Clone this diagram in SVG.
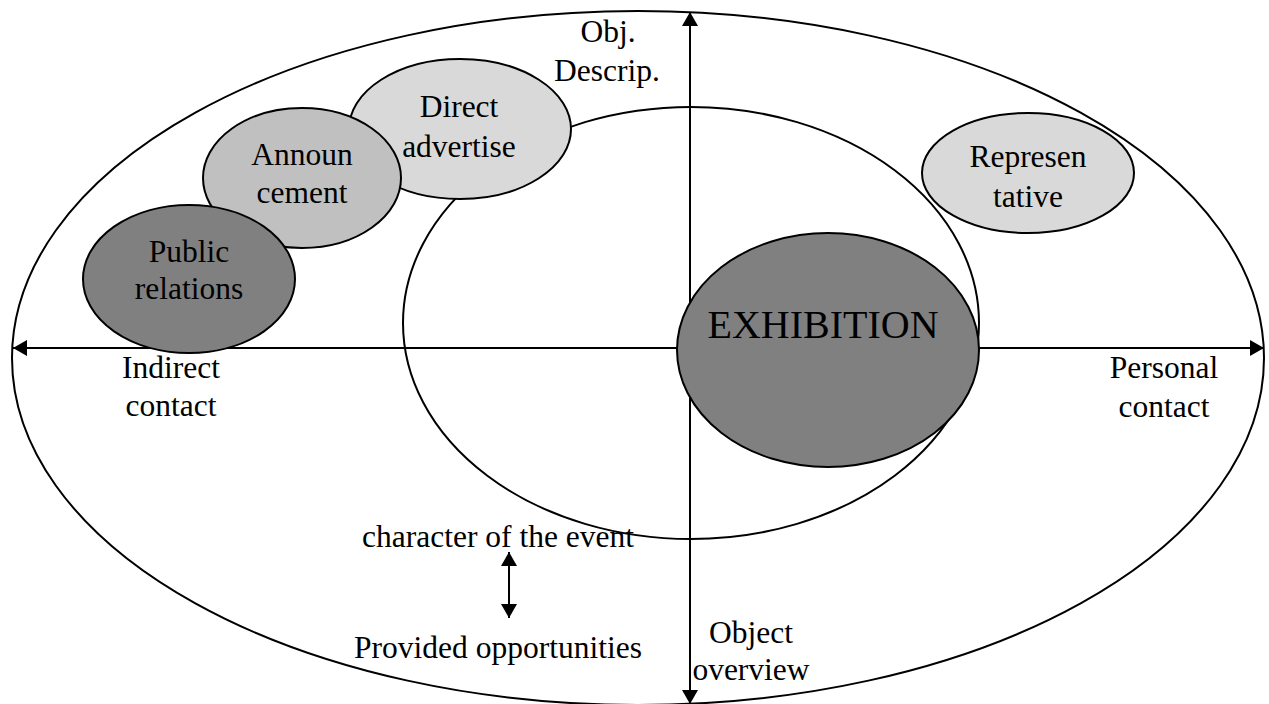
<svg xmlns="http://www.w3.org/2000/svg" width="1269" height="704" viewBox="0 0 1269 704">
<style>
.ln{stroke:#000;stroke-width:2;fill:none}
.el{stroke:#000;stroke-width:2}
text{font-family:"Liberation Serif","Times New Roman",serif;font-size:31.5px;fill:#000;text-anchor:middle}
</style>
<defs>
<marker id="ah" viewBox="0 0 14 16" refX="14" refY="8" markerWidth="14" markerHeight="16" markerUnits="userSpaceOnUse" orient="auto-start-reverse">
<path d="M0,0 L14,8 L0,16 Z" fill="#000"/>
</marker>
</defs>
<rect width="1269" height="704" fill="#fff"/>
<g id="outer"><ellipse class="el" cx="638" cy="358" rx="626" ry="347" fill="none"/></g>
<g id="inner"><ellipse class="el" cx="691" cy="323" rx="288" ry="216" fill="none"/></g>
<g id="connectors">
<line class="ln" x1="13" y1="348" x2="1264" y2="348" marker-start="url(#ah)" marker-end="url(#ah)"/>
<line class="ln" x1="690" y1="12" x2="690" y2="704" marker-start="url(#ah)" marker-end="url(#ah)"/>
<line class="ln" x1="509" y1="552" x2="509" y2="618" marker-start="url(#ah)" marker-end="url(#ah)"/>
</g>
<g id="direct"><ellipse class="el" cx="460" cy="129" rx="111" ry="70" fill="#d9d9d9"/><text x="459" y="117">Direct</text><text x="459" y="157">advertise</text></g>
<g id="announcement"><ellipse class="el" cx="302" cy="178" rx="99" ry="70" fill="#c0c0c0"/><text x="302" y="165">Announ</text><text x="302" y="203">cement</text></g>
<g id="public"><ellipse class="el" cx="189" cy="279" rx="106" ry="74" fill="#808080"/><text x="189" y="262">Public</text><text x="189" y="299">relations</text></g>
<g id="representative"><ellipse class="el" cx="1028" cy="173" rx="106" ry="60" fill="#d9d9d9"/><text x="1028" y="167">Represen</text><text x="1028" y="207">tative</text></g>
<g id="exhibition"><ellipse class="el" cx="828" cy="350" rx="151" ry="117" fill="#808080"/><text x="823" y="338" style="font-size:40px">EXHIBITION</text></g>
<g id="labels">
<text x="608" y="42">Obj.</text><text x="607" y="81">Descrip.</text>
<text x="171" y="378">Indirect</text><text x="171" y="416">contact</text>
<text x="1164" y="378">Personal</text><text x="1164" y="417">contact</text>
<text x="498" y="547">character of the event</text>
<text x="498" y="658">Provided opportunities</text>
<text x="751" y="643">Object</text><text x="751" y="680">overview</text>
</g>
</svg>
